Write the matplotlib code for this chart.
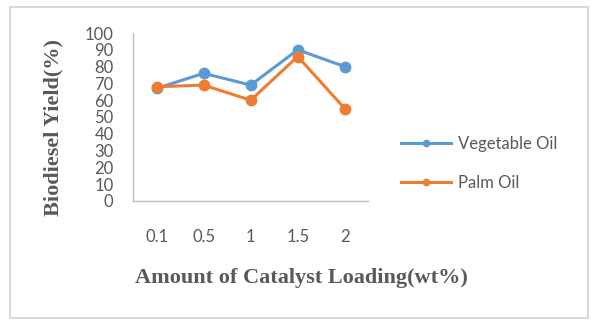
import matplotlib.pyplot as plt
from matplotlib.patches import Rectangle

# Data
loadings = ['0.1', '0.5', '1', '1.5', '2']
vegetable_oil = [67, 76, 69, 90, 80]
palm_oil = [68, 69, 60, 86, 55]

fig = plt.figure(figsize=(5.94, 3.30), dpi=100)
ax = fig.add_axes([0.224, 0.391, 0.396, 0.509])

x = range(len(loadings))
ax.plot(x, vegetable_oil, color='#5b9bd5', lw=2.2, marker='o', ms=7.5, label='Vegetable Oil')
ax.plot(x, palm_oil, color='#ed7d31', lw=2.2, marker='o', ms=7.5, label='Palm Oil')

ax.set_xlim(-0.5, len(loadings) - 0.5)
ax.set_ylim(0, 100)
ax.set_yticks(range(0, 101, 10))
ax.set_xticks(list(x))
ax.set_xticklabels(loadings)

for lab in ax.get_xticklabels() + ax.get_yticklabels():
    lab.set_fontfamily('Lato')
    lab.set_fontsize(12)
    lab.set_color('#595959')
ax.tick_params(axis='both', length=0)
ax.tick_params(axis='y', pad=14)
ax.tick_params(axis='x', pad=20)

for s in ['top', 'right']:
    ax.spines[s].set_visible(False)
for s in ['left', 'bottom']:
    ax.spines[s].set_color('#bfbfbf')
    ax.spines[s].set_linewidth(1)

fig.text(0.09, 0.615, 'Biodiesel Yield(%)', rotation=90, ha='center', va='center',
         family='Liberation Serif', weight='bold', size=16, color='#595959')
fig.text(0.508, 0.158, 'Amount of Catalyst Loading(wt%)', ha='center', va='center',
         family='Liberation Serif', weight='bold', size=16, color='#595959')

leg = fig.legend(loc='center left', bbox_to_anchor=(0.65, 0.505), frameon=False,
                 prop={'family': 'Lato', 'size': 12}, labelspacing=1.35,
                 handlelength=3.0, handletextpad=0.4, markerscale=0.6)
for t in leg.get_texts():
    t.set_color('#595959')

fig.patches.append(Rectangle((0.017, 0.036), 0.973, 0.944, transform=fig.transFigure,
                             fill=False, edgecolor='#d9d9d9', lw=1.5))

fig.savefig('out.png', dpi=100)
